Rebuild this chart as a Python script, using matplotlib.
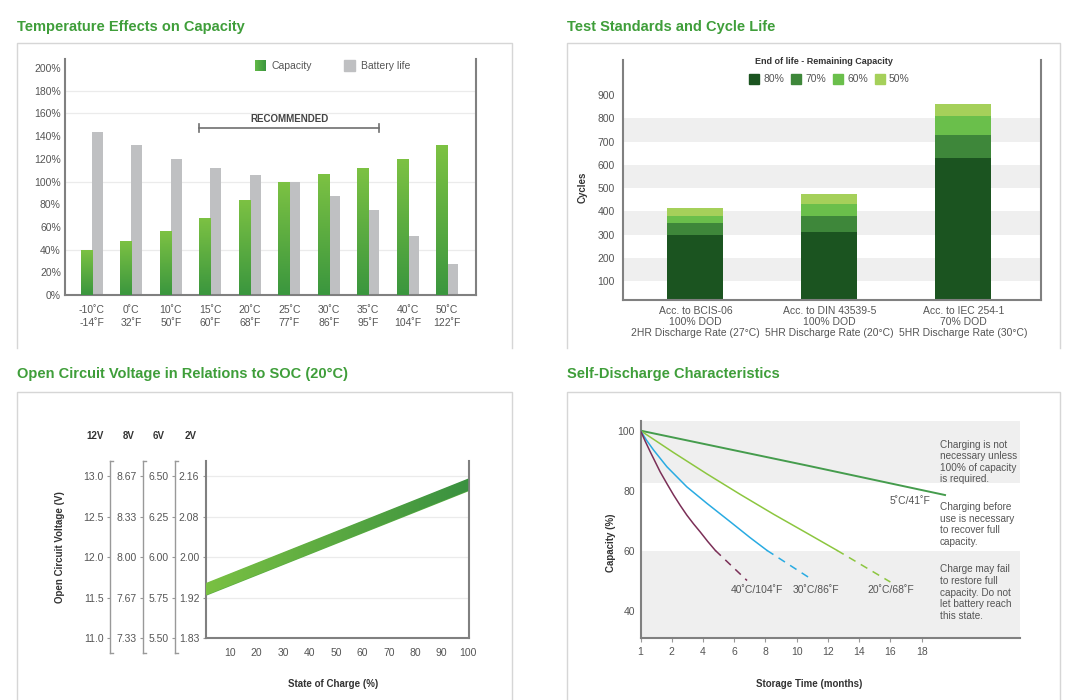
import numpy as np
import matplotlib
matplotlib.use("Agg")
import matplotlib.pyplot as plt
from matplotlib.patches import Rectangle
from matplotlib.lines import Line2D
from matplotlib.colors import LinearSegmentedColormap

plt.rcParams['font.family'] = ['Liberation Sans', 'DejaVu Sans']

W, H = 1085, 700

# ---------------- data ----------------
temp_c = ["-10˚C", "0˚C", "10˚C", "15˚C", "20˚C", "25˚C", "30˚C", "35˚C", "40˚C", "50˚C"]
temp_f = ["-14˚F", "32˚F", "50˚F", "60˚F", "68˚F", "77˚F", "86˚F", "95˚F", "104˚F", "122˚F"]
capacity_pct = [40, 48, 56, 68, 84, 100, 107, 112, 120, 132]
battery_life_pct = [144, 132, 120, 112, 106, 100, 87, 75, 52, 27]
temp_yticks = [0, 20, 40, 60, 80, 100, 120, 140, 160, 180, 200]
temp_grid = [40, 100, 160, 180]
recommended_first, recommended_last = 3, 7

standards = ["Acc. to BCIS-06\n100% DOD\n2HR Discharge Rate (27°C)",
             "Acc. to DIN 43539-5\n100% DOD\n5HR Discharge Rate (20°C)",
             "Acc. to IEC 254-1\n70% DOD\n5HR Discharge Rate (30°C)"]
eol_levels = ["80%", "70%", "60%", "50%"]
cycles_80 = [300, 310, 630]
cycles_70 = [350, 380, 730]
cycles_60 = [380, 430, 810]
cycles_50 = [415, 475, 860]
cycle_ticks = [100, 200, 300, 400, 500, 600, 700, 800, 900]
cycle_bands = [(100, 200), (300, 400), (500, 600), (700, 800)]

soc_pct = [0, 100]
ocv_low_12v = [11.52, 12.82]
ocv_high_12v = [11.67, 12.97]
ocv_ticks_12v = [11.0, 11.5, 12.0, 12.5, 13.0]
labels_12v = ["11.0", "11.5", "12.0", "12.5", "13.0"]
labels_8v = ["7.33", "7.67", "8.00", "8.33", "8.67"]
labels_6v = ["5.50", "5.75", "6.00", "6.25", "6.50"]
labels_2v = ["1.83", "1.92", "2.00", "2.08", "2.16"]
soc_ticks = [10, 20, 30, 40, 50, 60, 70, 80, 90, 100]

month_tick_pos = [0, 2, 4, 6, 8, 10, 12, 14, 16, 18]
month_tick_labels = ["1", "2", "4", "6", "8", "10", "12", "14", "16", "18"]
cap_ticks = [40, 60, 80, 100]
m5 = [0, 10.67, 19.5]
c5 = [100, 88.4, 78.6]
m20 = [0, 2.12, 4.26, 6.39, 8.53, 10.67, 12.59]
c20 = [100, 92.7, 85.6, 78.8, 72.2, 65.9, 60.2]
m20_dash = [12.59, 16.0]
c20_dash = [60.2, 49.7]
m30 = [0, 0.4, 0.83, 1.69, 2.97, 4.26, 5.75, 7.03, 8.1]
c30 = [100, 96.7, 93.6, 88.0, 81.3, 75.8, 69.7, 64.4, 60.2]
m30_dash = [8.1, 10.99]
c30_dash = [60.2, 50.5]
m40 = [0, 0.3, 0.62, 1.26, 1.7, 2.12, 2.55, 2.97, 3.4, 3.83, 4.3, 4.79]
c40 = [100, 96.5, 93.0, 86.3, 82.3, 78.6, 75.1, 71.9, 69.0, 66.3, 63.2, 60.2]
m40_dash = [4.79, 6.82]
c40_dash = [60.2, 50.2]

# ---------------- helpers ----------------
fig = plt.figure(figsize=(W / 100, H / 100), dpi=100)
fig.patch.set_facecolor("white")


def fx(x):
    return x / W


def fy(y):
    return 1 - y / H


def add_ax(x0, y0, x1, y1):
    return fig.add_axes([x0 / W, 1 - y1 / H, (x1 - x0) / W, (y1 - y0) / H])


TITLE_C = "#3f9e3a"
TXT = "#555555"
DARK = "#333333"
SPINE = "#808080"
FS = 7.5


def frame(x0, x1, y0, y1):
    fig.add_artist(Line2D([fx(x0), fx(x0), fx(x1), fx(x1)], [fy(y1), fy(y0), fy(y0), fy(y1)],
                          transform=fig.transFigure, color="#d6d6d6", lw=1.0))


def style_spines(ax, which):
    for s in ["left", "right", "top", "bottom"]:
        ax.spines[s].set_visible(s in which)
        ax.spines[s].set_color(SPINE)
        ax.spines[s].set_linewidth(1.5)


# titles
for (x, y, t) in [(17, 27, "Temperature Effects on Capacity"), (567, 27, "Test Standards and Cycle Life"),
                  (17, 374, "Open Circuit Voltage in Relations to SOC (20°C)"),
                  (567, 374, "Self-Discharge Characteristics")]:
    fig.text(fx(x), fy(y), t, color=TITLE_C, fontsize=10.5, fontweight="bold", va="center", ha="left")

frame(17, 512, 43, 348)
frame(567, 1060, 43, 348)
frame(17, 512, 392, 702)
frame(567, 1060, 392, 702)

# ---------------- panel 1 ----------------
ax1 = add_ax(65, 59, 476, 295)
x = np.arange(len(temp_c))
bw = 0.28
cap_cmap = LinearSegmentedColormap.from_list("cap", ["#3a963e", "#7dc243"])
grad_v = np.linspace(0, 1, 256).reshape(-1, 1)
for yv in temp_grid:
    ax1.axhline(yv, color="#ebebeb", lw=0.9, zorder=0)
cap_bars = ax1.bar(x - bw / 2, capacity_pct, width=bw, color="#5aae41", zorder=2)
for b in cap_bars:
    im = ax1.imshow(grad_v, extent=[b.get_x(), b.get_x() + b.get_width(), 0, b.get_height()],
                    origin="lower", aspect="auto", cmap=cap_cmap, zorder=3)
    im.set_clip_path(b)
ax1.bar(x + bw / 2, battery_life_pct, width=bw, color="#bfc0c2", zorder=2)
ax1.set_xlim(-0.68, 9.73)
ax1.set_ylim(0, 208)
ax1.set_yticks(temp_yticks)
ax1.set_yticklabels([f"{v}%" for v in temp_yticks])
ax1.set_xticks(x)
ax1.set_xticklabels([c + "\n" + f for c, f in zip(temp_c, temp_f)], linespacing=1.45)
ax1.tick_params(axis="both", length=0, labelsize=FS, colors=TXT)
ax1.tick_params(axis="y", pad=3)
ax1.tick_params(axis="x", pad=7)
style_spines(ax1, ["left", "right", "bottom"])
# recommended bracket
rx0 = recommended_first - bw
rx1 = recommended_last + bw
ax1.plot([rx0, rx1], [147, 147], color="#707070", lw=1.2, zorder=4)
ax1.plot([rx0, rx0], [143.5, 150.5], color="#707070", lw=1.2, zorder=4)
ax1.plot([rx1, rx1], [143.5, 150.5], color="#707070", lw=1.2, zorder=4)
ax1.text((rx0 + rx1) / 2, 155, "RECOMMENDED", ha="center", va="center", fontsize=7,
         fontweight="bold", color="#444444")
# legend
lg = add_ax(255, 60, 266, 71)
lg.imshow(np.linspace(0, 1, 64).reshape(1, -1), cmap=LinearSegmentedColormap.from_list("l", ["#62b947", "#3a963e"]),
          aspect="auto")
lg.axis("off")
fig.add_artist(Rectangle((fx(344), fy(71)), 11 / W, 11 / H, transform=fig.transFigure,
                         color="#bfc0c2"))
fig.text(fx(272), fy(65.7), "Capacity", fontsize=FS, color=TXT, va="center")
fig.text(fx(361), fy(65.7), "Battery life", fontsize=FS, color=TXT, va="center")

# ---------------- panel 2 ----------------
ax2 = add_ax(623, 60, 1041, 300)
for lo, hi in cycle_bands:
    ax2.axhspan(lo, hi, color="#efefef", zorder=0, lw=0)
xs = np.arange(len(standards))
bw2 = 0.416
seg_colors = ["#1b5420", "#3e873a", "#6abf4b", "#a5d05a"]
totals = [cycles_80, cycles_70, cycles_60, cycles_50]
prev = [0, 0, 0]
for tot, col in zip(totals, seg_colors):
    heights = [t - p for t, p in zip(tot, prev)]
    ax2.bar(xs, heights, bottom=prev, width=bw2, color=col, zorder=2)
    prev = tot
ax2.set_xlim(-0.54, 2.58)
ax2.set_ylim(20, 1050)
ax2.set_yticks(cycle_ticks)
ax2.set_xticks(xs)
ax2.set_xticklabels(standards, linespacing=1.15)
ax2.tick_params(axis="both", length=0, labelsize=FS, colors=TXT)
ax2.tick_params(axis="y", pad=6)
ax2.tick_params(axis="x", pad=4)
style_spines(ax2, ["left", "right", "bottom"])
fig.text(fx(583), fy(187), "Cycles", rotation=90, fontsize=7, fontweight="bold", color=DARK,
         ha="center", va="center")
fig.text(fx(824), fy(61), "End of life - Remaining Capacity", fontsize=6.5, fontweight="bold",
         color=DARK, ha="center", va="center")
for sx, lab, col in zip([749, 791, 833, 875], eol_levels, seg_colors):
    fig.add_artist(Rectangle((fx(sx), fy(83.5)), 10 / W, 10 / H, transform=fig.transFigure, color=col))
    fig.text(fx(sx + 14), fy(78.7), lab, fontsize=FS, color=TXT, va="center")

# ---------------- panel 3 ----------------
ax3 = add_ax(205.5, 460.7, 469.3, 638.3)
y_bot, y_top = 11.0, 13.19
for yv in ocv_ticks_12v[1:]:
    ax3.axhline(yv, color="#ebebeb", lw=0.9, zorder=0)
band = ax3.fill_between(soc_pct, ocv_low_12v, ocv_high_12v, color="#5aae41", lw=0, zorder=2)
ocv_cmap = LinearSegmentedColormap.from_list("ocv", ["#7ac143", "#3a9140"])
im = ax3.imshow(np.linspace(0, 1, 256).reshape(1, -1), extent=[0, 100, 11.3, 13.1], cmap=ocv_cmap,
                aspect="auto", zorder=3)
im.set_clip_path(band.get_paths()[0], ax3.transData)
ax3.set_xlim(0.75, 100.4)
ax3.set_ylim(y_bot, y_top)
ax3.set_xticks(soc_ticks)
ax3.set_yticks(ocv_ticks_12v)
ax3.set_yticklabels(labels_2v)
ax3.tick_params(axis="x", length=0, labelsize=FS, colors=TXT, pad=7)
ax3.tick_params(axis="y", length=2.5, labelsize=FS, labelcolor=TXT, color="#999999", pad=2)
style_spines(ax3, ["left", "right", "bottom"])

br_bottom = y_bot - 15 / 81.15
for bx, labs in [(110, labels_12v), (143.3, labels_8v), (174.7, labels_6v)]:
    bax = add_ax(bx, 460.7, bx + 3, 653.3)
    bax.set_facecolor("none")
    bax.set_ylim(br_bottom, y_top)
    bax.set_xlim(0, 1)
    for s in ["right", "top", "bottom"]:
        bax.spines[s].set_visible(False)
    bax.spines["left"].set_color("#999999")
    bax.spines["left"].set_linewidth(1.0)
    bax.set_xticks([])
    bax.set_yticks(ocv_ticks_12v)
    bax.set_yticklabels(labs)
    bax.tick_params(axis="y", length=2.5, labelsize=FS, labelcolor=TXT, color="#999999", pad=2)
    bax.plot([0, 1], [y_top, y_top], color="#999999", lw=1.0, clip_on=False)
    bax.plot([0, 1], [br_bottom, br_bottom], color="#999999", lw=1.0, clip_on=False)

for hx, t in [(95, "12V"), (129, "8V"), (159, "6V"), (190.7, "2V")]:
    fig.text(fx(hx), fy(436), t, fontsize=7, fontweight="bold", color=DARK, ha="center", va="center")
fig.text(fx(60), fy(547), "Open Circuit Voltage (V)", rotation=90, fontsize=7, fontweight="bold",
         color=DARK, ha="center", va="center")
fig.text(fx(333), fy(684), "State of Charge (%)", fontsize=7, fontweight="bold", color=DARK,
         ha="center", va="center")

# ---------------- panel 4 ----------------
ax4 = add_ax(640.5, 421, 1020, 638.3)
ax4.axhspan(82.7, 103.2, color="#efefef", lw=0, zorder=0)
ax4.axhspan(31, 60, color="#efefef", lw=0, zorder=0)
ax4.plot(m5, c5, color="#459c4d", lw=1.4, zorder=3)
ax4.plot(m20, c20, color="#8cc63f", lw=1.1, zorder=3)
ax4.plot(m20_dash, c20_dash, color="#8cc63f", lw=1.1, ls=(0, (5, 4)), zorder=3)
ax4.plot(m30, c30, color="#29abe2", lw=1.1, zorder=3)
ax4.plot(m30_dash, c30_dash, color="#29abe2", lw=1.1, ls=(0, (5, 4)), zorder=3)
ax4.plot(m40, c40, color="#7b2f57", lw=1.1, zorder=3)
ax4.plot(m40_dash, c40_dash, color="#7b2f57", lw=1.1, ls=(0, (5, 4)), zorder=3)
ax4.set_xlim(0, 24.3)
ax4.set_ylim(31, 103.2)
ax4.set_xticks(month_tick_pos)
ax4.set_xticklabels(month_tick_labels)
ax4.set_yticks(cap_ticks)
ax4.tick_params(axis="x", length=3, color="#999999", labelsize=FS, labelcolor=TXT, pad=3)
ax4.tick_params(axis="y", length=0, labelsize=FS, labelcolor=TXT, pad=4)
style_spines(ax4, ["left", "bottom"])
for (mx, cy, t) in [(17.24, 76.7, "5˚C/41˚F"), (7.46, 47.1, "40˚C/104˚F"),
                    (11.26, 47.1, "30˚C/86˚F"), (16.0, 47.1, "20˚C/68˚F")]:
    ax4.text(mx, cy, t, fontsize=FS, color=TXT, ha="center", va="center")
notes = [(89.6, "Charging is not\nnecessary unless\n100% of capacity\nis required."),
         (68.8, "Charging before\nuse is necessary\nto recover full\ncapacity."),
         (46.2, "Charge may fail\nto restore full\ncapacity. Do not\nlet battery reach\nthis state.")]
for cy, t in notes:
    ax4.text(19.15, cy, t, fontsize=7.2, color=TXT, ha="left", va="center", linespacing=1.2)
fig.text(fx(610.7), fy(543), "Capacity (%)", rotation=90, fontsize=7, fontweight="bold",
         color=DARK, ha="center", va="center")
fig.text(fx(808.7), fy(684.3), "Storage Time (months)", fontsize=7, fontweight="bold", color=DARK,
         ha="center", va="center")

fig.savefig("out.png", dpi=100)
